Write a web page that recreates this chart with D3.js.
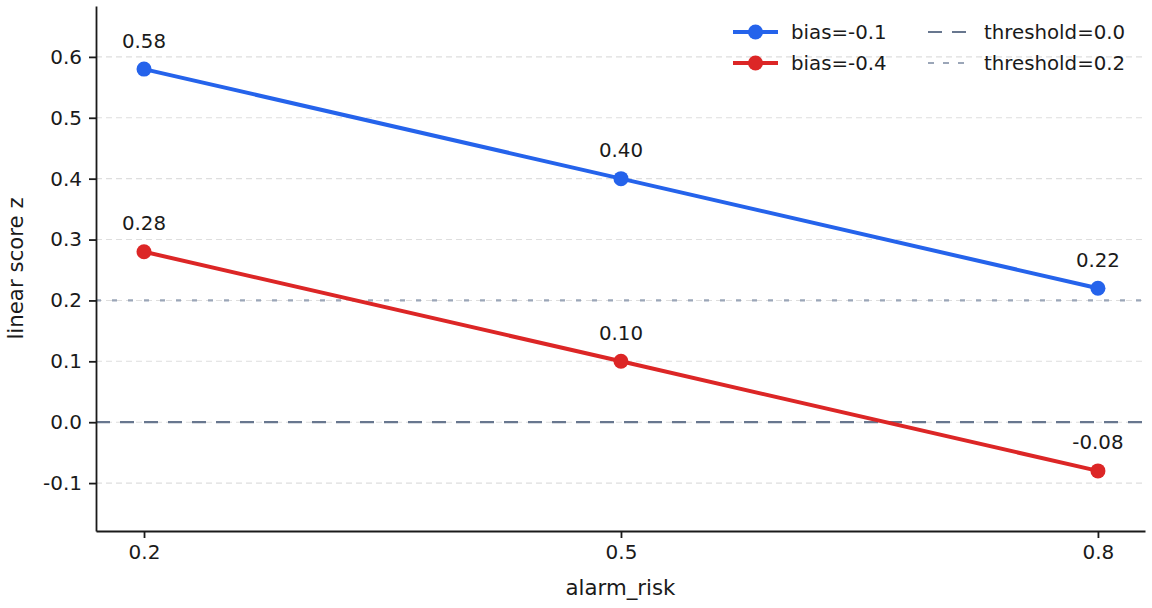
<!DOCTYPE html>
<html lang="en">
<head>
  <meta charset="UTF-8" />
  <title>Linear score vs alarm_risk</title>
  <script src="https://d3js.org/d3.v7.min.js"></script>
  <style>
    body { margin: 0; background: #ffffff; }
    svg { font-family: 'DejaVu Sans', sans-serif; }
    .axis text { font-family: 'DejaVu Sans', sans-serif; font-size: 20px; fill: #1a1a1a; }
    .axis line { stroke: #1a1a1a; stroke-width: 1.8px; }
    .axis .domain { stroke: #1a1a1a; stroke-width: 1.8px; }
  </style>
</head>
<body>
  <svg id="chart" width="1152" height="608"></svg>

  <script>
    // data
    const xValues = [0.2, 0.5, 0.8];
    const seriesNames = ["bias=-0.1", "bias=-0.4"];
    const seriesColors = ["#2563eb", "#dc2626"];
    const biasHigh = [0.58, 0.40, 0.22];
    const biasLow = [0.28, 0.10, -0.08];
    const thresholds = [0.0, 0.2];
    const thresholdNames = ["threshold=0.0", "threshold=0.2"];
    const yTicks = [-0.1, 0.0, 0.1, 0.2, 0.3, 0.4, 0.5, 0.6];

    const svg = d3.select("#chart");
    const plotLeft = 96, plotRight = 1145, plotTop = 6, plotBottom = 531;
    const labelSize = 21.3, textSize = 19.8;
    // colour + dash for each threshold line
    const tStyles = [["#68778f", "14,10"], ["#9ba6b8", "5,11"]];

    const x = d3.scaleLinear().domain([0.1698, 0.8296]).range([plotLeft, plotRight]);
    const y = d3.scaleLinear().domain([-0.1787, 0.6836]).range([plotBottom, plotTop]);

    // grid
    svg.append("g")
      .selectAll("line")
      .data(yTicks)
      .join("line")
        .attr("x1", plotLeft).attr("x2", plotRight)
        .attr("y1", d => y(d)).attr("y2", d => y(d))
        .attr("stroke", "#dedede")
        .attr("stroke-width", 1.1)
        .attr("stroke-dasharray", "6,4");

    // threshold lines
    svg.append("g")
      .selectAll("line")
      .data(thresholds)
      .join("line")
        .attr("x1", plotLeft).attr("x2", plotRight)
        .attr("y1", d => y(d)).attr("y2", d => y(d))
        .attr("stroke", (d, i) => tStyles[i][0])
        .attr("stroke-width", 2.2)
        .attr("stroke-dasharray", (d, i) => tStyles[i][1]);

    // axes
    svg.append("g")
      .attr("class", "axis")
      .attr("transform", `translate(0,${plotBottom})`)
      .call(d3.axisBottom(x).tickValues(xValues).tickFormat(d => d.toFixed(1)).tickSize(7).tickSizeOuter(0).tickPadding(7));

    svg.append("g")
      .attr("class", "axis")
      .attr("transform", `translate(${plotLeft},0)`)
      .call(d3.axisLeft(y).tickValues(yTicks).tickFormat(d => d.toFixed(1)).tickSize(7).tickSizeOuter(0).tickPadding(7));

    // axis labels
    svg.append("text")
      .attr("x", (plotLeft + plotRight) / 2).attr("y", 595)
      .attr("text-anchor", "middle")
      .attr("font-size", labelSize).attr("fill", "#1a1a1a")
      .text("alarm_risk");
    svg.append("text")
      .attr("transform", `translate(23,${(plotTop + plotBottom) / 2}) rotate(-90)`)
      .attr("text-anchor", "middle")
      .attr("font-size", labelSize).attr("fill", "#1a1a1a")
      .text("linear score z");

    // series
    const series = [biasHigh, biasLow];
    const line = d3.line().x((d, i) => x(xValues[i])).y(d => y(d));

    series.forEach((vals, s) => {
      svg.append("path")
        .datum(vals)
        .attr("d", line)
        .attr("fill", "none")
        .attr("stroke", seriesColors[s])
        .attr("stroke-width", 4);

      svg.append("g")
        .selectAll("circle")
        .data(vals)
        .join("circle")
          .attr("cx", (d, i) => x(xValues[i]))
          .attr("cy", d => y(d))
          .attr("r", 7.5)
          .attr("fill", seriesColors[s]);

      svg.append("g")
        .selectAll("text")
        .data(vals)
        .join("text")
          .attr("x", (d, i) => x(xValues[i]))
          .attr("y", d => y(d) - 21.5)
          .attr("text-anchor", "middle")
          .attr("font-size", textSize)
          .attr("fill", "#1a1a1a")
          .text(d => d.toFixed(2));
    });

    // legend
    const legend = svg.append("g");
    seriesNames.forEach((name, i) => {
      const ly = 32 + i * 31;
      legend.append("line")
        .attr("x1", 733).attr("x2", 778).attr("y1", ly).attr("y2", ly)
        .attr("stroke", seriesColors[i]).attr("stroke-width", 4);
      legend.append("circle")
        .attr("cx", 755.5).attr("cy", ly).attr("r", 7.5)
        .attr("fill", seriesColors[i]);
      legend.append("text")
        .attr("x", 791).attr("y", ly).attr("dy", "0.35em")
        .attr("font-size", textSize).attr("fill", "#1a1a1a")
        .text(name);
    });
    thresholdNames.forEach((name, i) => {
      const ly = 32 + i * 31;
      legend.append("line")
        .attr("x1", 928).attr("x2", 966).attr("y1", ly).attr("y2", ly)
        .attr("stroke", tStyles[i][0]).attr("stroke-width", 2.2)
        .attr("stroke-dasharray", i === 0 ? "14,10" : "6,9");
      legend.append("text")
        .attr("x", 984).attr("y", ly).attr("dy", "0.35em")
        .attr("font-size", textSize).attr("fill", "#1a1a1a")
        .text(name);
    });
  </script>
</body>
</html>
